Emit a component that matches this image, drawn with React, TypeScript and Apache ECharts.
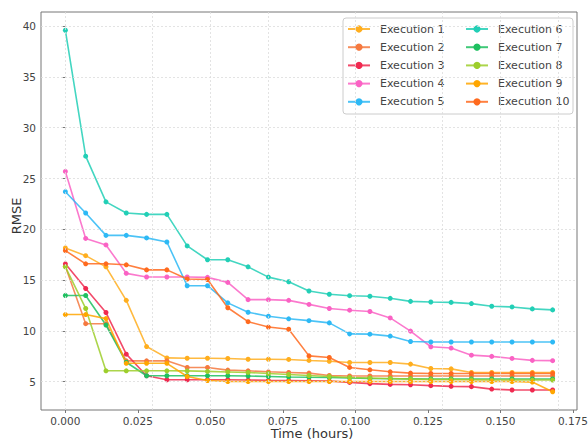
import React, { useEffect, useRef } from "react";
import * as echarts from "echarts";

// Elapsed time of each evaluation (hours)
const hours = [
  0, 0.007, 0.014, 0.021, 0.028, 0.035, 0.042, 0.049, 0.056, 0.063, 0.07, 0.077, 0.084,
  0.091, 0.098, 0.105, 0.112, 0.119, 0.126, 0.133, 0.14, 0.147, 0.154, 0.161, 0.168,
];

const exec1 = [18.16, 17.4, 16.3, 13.0, 8.45, 7.33, 7.3, 7.3, 7.27, 7.2, 7.2, 7.18, 7.08, 7.0, 6.88, 6.88, 6.88, 6.72, 6.29, 6.25, 5.9, 5.9, 5.9, 5.9, 5.9];
const exec2 = [16.35, 10.7, 10.7, 7.04, 7.04, 7.04, 6.39, 6.39, 6.13, 6.06, 5.96, 5.9, 5.83, 5.6, 5.55, 5.55, 5.55, 5.55, 5.55, 5.55, 5.55, 5.55, 5.55, 5.55, 5.55];
const exec3 = [16.6, 14.17, 11.8, 7.7, 5.57, 5.18, 5.18, 5.18, 5.18, 5.15, 5.12, 5.1, 5.08, 5.05, 4.92, 4.8, 4.72, 4.69, 4.6, 4.53, 4.5, 4.26, 4.17, 4.17, 4.17];
const exec4 = [25.7, 19.1, 18.46, 15.66, 15.3, 15.3, 15.3, 15.26, 14.77, 13.07, 13.07, 13.0, 12.6, 12.2, 12.03, 11.9, 11.27, 9.97, 8.43, 8.3, 7.6, 7.48, 7.28, 7.09, 7.06];
const exec5 = [23.7, 21.6, 19.4, 19.4, 19.15, 18.75, 14.44, 14.44, 12.75, 11.83, 11.44, 11.18, 11.0, 10.78, 9.7, 9.67, 9.48, 8.95, 8.9, 8.9, 8.9, 8.9, 8.9, 8.9, 8.9];
const exec6 = [39.6, 27.2, 22.7, 21.6, 21.47, 21.47, 18.36, 17.0, 17.0, 16.3, 15.29, 14.83, 13.92, 13.6, 13.46, 13.4, 13.2, 12.9, 12.84, 12.8, 12.68, 12.42, 12.35, 12.16, 12.06];
const exec7 = [13.48, 13.48, 10.57, 6.9, 5.57, 5.57, 5.57, 5.57, 5.57, 5.55, 5.5, 5.45, 5.42, 5.4, 5.35, 5.3, 5.28, 5.27, 5.25, 5.25, 5.25, 5.25, 5.25, 5.25, 5.25];
const exec8 = [16.3, 12.2, 6.06, 6.06, 6.06, 6.06, 6.05, 6.0, 5.95, 5.9, 5.8, 5.7, 5.6, 5.5, 5.4, 5.35, 5.3, 5.25, 5.2, 5.2, 5.18, 5.15, 5.15, 5.15, 5.15];
const exec9 = [11.6, 11.6, 11.2, 6.8, 6.8, 6.8, 5.5, 5.1, 5.0, 5.0, 5.0, 5.0, 5.0, 5.0, 5.0, 5.0, 5.0, 5.0, 5.0, 5.0, 5.0, 5.0, 5.0, 4.95, 4.0];
const exec10 = [17.9, 16.6, 16.6, 16.5, 16.0, 16.0, 15.1, 15.05, 12.27, 10.9, 10.37, 10.15, 7.53, 7.37, 6.39, 6.16, 5.96, 5.83, 5.8, 5.8, 5.8, 5.8, 5.8, 5.8, 5.8];

const seriesNames = [
  "Execution 1", "Execution 2", "Execution 3", "Execution 4", "Execution 5",
  "Execution 6", "Execution 7", "Execution 8", "Execution 9", "Execution 10",
];
const seriesValues = [exec1, exec2, exec3, exec4, exec5, exec6, exec7, exec8, exec9, exec10];
const seriesColors = [
  "#FFAE1E", "#F5793F", "#F02A50", "#FA62C4", "#2DB9F5",
  "#22CFB6", "#1EC060", "#9DCE2C", "#FFA600", "#FF6A1E",
];

const xTicks = [0, 0.025, 0.05, 0.075, 0.1, 0.125, 0.15, 0.175];
const yTicks = [5, 10, 15, 20, 25, 30, 35, 40];

const xTitle = "Time (hours)";
const yTitle = "RMSE";

const FONT = "DejaVu Sans, sans-serif";

export default function App() {
  const ref = useRef<HTMLDivElement>(null);

  useEffect(() => {
    if (!ref.current) return;
    const chart = echarts.init(ref.current, null, { renderer: "svg" });

    const gridLineStyle = { color: "#dcdcdc", type: [2, 2] as any, width: 0.8 };

    const lineSeries = seriesNames.map((name, k) => ({
      name,
      type: "line" as const,
      z: 3,
      data: hours.map((h, i) => [h, seriesValues[k][i]]),
      symbol: "circle",
      symbolSize: 5,
      showSymbol: true,
      color: seriesColors[k],
      lineStyle: { width: 1.6, opacity: 0.85 },
      itemStyle: { color: seriesColors[k] },
      emphasis: { disabled: true },
    }));

    const legendCommon = {
      orient: "vertical" as const,
      top: 22,
      itemWidth: 22,
      itemHeight: 9,
      itemGap: 4.2,
      padding: 0,
      textStyle: {
        fontFamily: FONT,
        fontSize: 11,
        lineHeight: 14,
        color: "#444",
        padding: [0, 0, 0, 5],
      },
    };

    chart.setOption({
      animation: false,
      backgroundColor: "#fff",
      textStyle: { fontFamily: FONT },
      grid: {
        left: 41,
        right: 11,
        top: 12,
        bottom: 31,
        show: true,
        borderColor: "#777",
        borderWidth: 1,
        containLabel: false,
        outerBoundsMode: "none",
      },
      legend: [
        { ...legendCommon, left: 347, data: seriesNames.slice(0, 5) },
        { ...legendCommon, left: 465, data: seriesNames.slice(5) },
      ],
      graphic: [
        {
          type: "rect",
          z: 3,
          shape: { x: 343, y: 18, width: 230, height: 96, r: 3 },
          style: { fill: "rgba(255,255,255,0.85)", stroke: "#cccccc", lineWidth: 1 },
          silent: true,
        },
        {
          type: "text",
          x: 312,
          y: 433,
          style: {
            text: xTitle,
            align: "center",
            verticalAlign: "middle",
            fontFamily: FONT,
            fontSize: 13,
            fill: "#333",
          },
          silent: true,
        },
        {
          type: "text",
          x: 16,
          y: 216,
          rotation: Math.PI / 2,
          style: {
            text: yTitle,
            align: "center",
            verticalAlign: "middle",
            fontFamily: FONT,
            fontSize: 13,
            fill: "#333",
          },
          silent: true,
        },
      ],
      xAxis: {
        type: "value",
        min: -0.0084,
        max: 0.1764,
        axisLine: { show: false },
        splitLine: { show: false },
        axisTick: {
          show: true,
          customValues: xTicks,
          length: 3,
          lineStyle: { color: "#777" },
        },
        axisLabel: {
          customValues: xTicks,
          formatter: (v: number) => v.toFixed(3),
          fontFamily: FONT,
          fontSize: 10.5,
          color: "#444",
          margin: 5,
        },
      },
      yAxis: {
        type: "value",
        min: 2.2,
        max: 41.4,
        axisLine: { show: false },
        splitLine: { show: false },
        axisTick: {
          show: true,
          customValues: yTicks,
          length: 3,
          lineStyle: { color: "#777" },
        },
        axisLabel: {
          customValues: yTicks,
          fontFamily: FONT,
          fontSize: 10.5,
          color: "#444",
          margin: 5,
        },
      },
      series: [
        {
          name: "grid",
          type: "line",
          z: 1,
          data: [],
          silent: true,
          markLine: {
            silent: true,
            symbol: ["none", "none"],
            label: { show: false },
            lineStyle: gridLineStyle,
            emphasis: { disabled: true },
            data: [
              ...xTicks.map((x) => ({ xAxis: x })),
              ...yTicks.map((y) => ({ yAxis: y })),
            ],
          },
        },
        ...lineSeries,
      ],
    });

    return () => chart.dispose();
  }, []);

  return (
    <div
      ref={ref}
      style={{ position: "absolute", left: 0, top: 0, width: 588, height: 441 }}
    />
  );
}
